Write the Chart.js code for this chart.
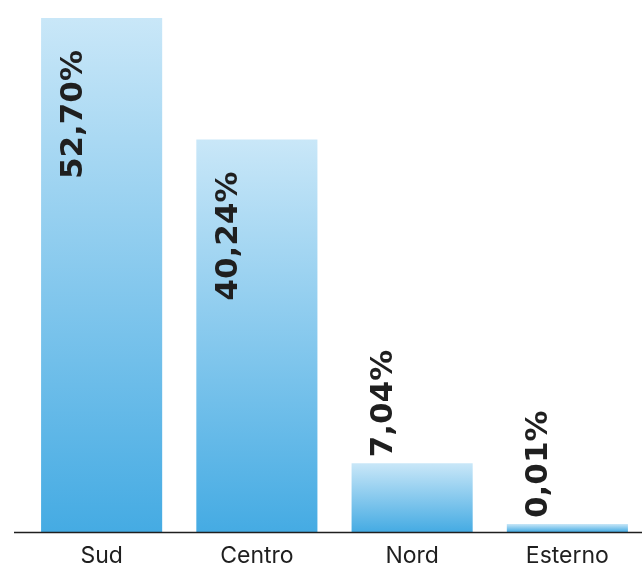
<!DOCTYPE html>
<html>
<head>
  <title>Distribuzione per area</title>
  <script src="https://cdn.jsdelivr.net/npm/chart.js"></script>
  <style>
    html, body { margin: 0; padding: 0; background: #fff; overflow: hidden; }
    #wrap { position: absolute; left: 0; top: 0; width: 660px; height: 567px; }
  </style>
</head>
<body>
  <div id="wrap"><canvas id="areaChart"></canvas></div>
  <script>
    const categories = ['Sud', 'Centro', 'Nord', 'Esterno'];
    const values = [52.70, 40.24, 7.04, 0.01];
    const valueLabels = ['52,70%', '40,24%', '7,04%', '0,01%'];

    const topColor = '#c9e7f8';
    const bottomColor = '#45abe3';
    const textColor = '#1f1f1f';

    // gradient per bar, light at top, darker at the base
    function barGradient(ctx) {
      const chart = ctx.chart;
      if (!chart.chartArea || !chart.scales.y) return bottomColor;
      const y = chart.scales.y;
      const base = y.getPixelForValue(0);
      let top = y.getPixelForValue(ctx.raw);
      if (base - top < 8) top = base - 8;
      const g = chart.ctx.createLinearGradient(0, top, 0, base);
      g.addColorStop(0, topColor);
      g.addColorStop(1, bottomColor);
      return g;
    }

    const valueLabelPlugin = {
      id: 'valueLabels',
      afterDatasetsDraw(chart) {
        const c = chart.ctx;
        const meta = chart.getDatasetMeta(0);
        c.save();
        c.font = 'bold 31px "DejaVu Sans"';
        c.fillStyle = textColor;
        c.textBaseline = 'middle';
        meta.data.forEach((bar, i) => {
          const txt = valueLabels[i];
          const w = c.measureText(txt).width;
          const h = bar.base - bar.y;
          const cx = bar.x - 28;
          c.save();
          if (h > w + 50) {
            c.translate(cx, bar.y + 32);
            c.rotate(-Math.PI / 2);
            c.textAlign = 'right';
          } else {
            c.translate(cx, bar.y - 6);
            c.rotate(-Math.PI / 2);
            c.textAlign = 'left';
          }
          c.fillText(txt, 0, 0);
          c.restore();
        });
        c.restore();
      }
    };

    const axisLinePlugin = {
      id: 'axisLine',
      afterDatasetsDraw(chart) {
        const c = chart.ctx;
        const a = chart.chartArea;
        c.save();
        c.strokeStyle = textColor;
        c.lineWidth = 1.5;
        c.beginPath();
        c.moveTo(a.left - 10, a.bottom + 0.5);
        c.lineTo(chart.width, a.bottom + 0.5);
        c.stroke();
        c.restore();
      }
    };

    new Chart(document.getElementById('areaChart'), {
      type: 'bar',
      data: {
        labels: categories,
        datasets: [{
          data: values,
          backgroundColor: barGradient,
          borderWidth: 0,
          barPercentage: 0.78,
          categoryPercentage: 1,
          minBarLength: 8
        }]
      },
      options: {
        responsive: true,
        maintainAspectRatio: false,
        animation: false,
        layout: { padding: { left: 24, right: 15, top: 18, bottom: 0 } },
        plugins: { legend: { display: false }, tooltip: { enabled: false } },
        scales: {
          x: {
            grid: { display: false, drawTicks: false },
            border: { display: false },
            ticks: {
              color: textColor,
              font: { family: 'Inter', size: 23 },
              padding: 10,
              maxRotation: 0
            },
            afterFit(scale) { scale.height = 35; }
          },
          y: {
            display: false,
            min: 0,
            max: 52.7
          }
        }
      },
      plugins: [valueLabelPlugin, axisLinePlugin]
    });
  </script>
</body>
</html>
